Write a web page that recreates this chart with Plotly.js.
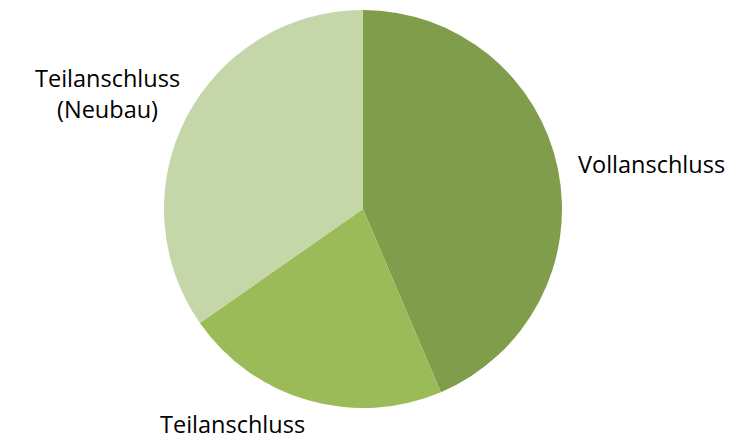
<!DOCTYPE html>
<html>
<head>
<meta charset="utf-8">
<script src="https://cdn.plot.ly/plotly-3.0.1.min.js"></script>
<style>html,body{margin:0;padding:0;background:#fff;}#chart{width:741px;height:440px;}</style>
</head>
<body>
<div id="chart"></div>
<script>
const labels = ["Vollanschluss", "Teilanschluss", "Teilanschluss<br>(Neubau)"];
const values = [43.6, 21.7, 34.7];
const colors = ["#7f9d4b", "#9bbb59", "#c5d6a9"];
const labelPos = [
  {x: 577, y: 164, xanchor: "left", yanchor: "middle"},
  {x: 232, y: 441, xanchor: "center", yanchor: "bottom"},
  {x: 108, y: 93, xanchor: "center", yanchor: "middle"}
];
const W = 741, H = 440;
const annotations = labels.map((t, i) => ({
  text: t, showarrow: false, xref: "paper", yref: "paper",
  x: labelPos[i].x / W, y: 1 - labelPos[i].y / H,
  xanchor: labelPos[i].xanchor, yanchor: labelPos[i].yanchor, align: "center",
  borderpad: 0,
  font: {family: "'Open Sans', sans-serif", size: 23.5, color: "#000"}
}));
const data = [{
  type: "pie", labels: labels, values: values, sort: false,
  direction: "clockwise", rotation: 0,
  marker: {colors: colors, line: {width: 0}},
  textinfo: "none", hoverinfo: "label+percent",
  domain: {x: [164 / W, 562 / W], y: [32 / H, 430 / H]}
}];
const layout = {
  width: W, height: H, margin: {l: 0, r: 0, t: 0, b: 0},
  showlegend: false, paper_bgcolor: "#fff", annotations: annotations
};
Plotly.newPlot("chart", data, layout, {displayModeBar: false, staticPlot: true});
</script>
</body>
</html>
